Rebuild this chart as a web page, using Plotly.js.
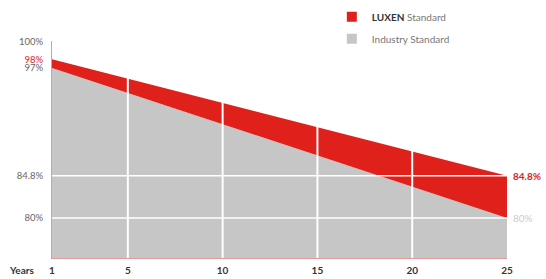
<!DOCTYPE html>
<html>
<head>
<meta charset="utf-8">
<script src="https://cdn.plot.ly/plotly-3.0.1.min.js"></script>
<style>html,body{margin:0;padding:0;background:#fff;}#chart{width:546px;height:279px;}</style>
</head>
<body>
<div id="chart"></div>
<script>
// ---- data ----
const years = [1, 25];
const luxen = [98, 84.8];
const industry = [97, 80];
const xTicks = [1, 5, 10, 15, 20, 25];
const xTickText = ['1', '5', '10', '15', '20', '25'];
const yTicks = [80, 84.8, 97, 98, 100];
const yTickText = ['80%', '84.8%', '97%', '98%', '100%'];
const seriesNames = ['<b><span style="color:#333">LUXEN</span></b> Standard', 'Industry Standard'];

const RED = '#e0201a';
const GRAY = '#c6c6c6';
const FONT = 'Lato, "Open Sans", sans-serif';

const yTickColored = yTicks.map((v, i) => {
  const c = (v === luxen[0]) ? RED : '#666';
  return '<span style="color:' + c + '">' + yTickText[i] + '</span>';
});

const traces = [
  {x: years, y: industry, type: 'scatter', mode: 'lines', fill: 'tozeroy',
   fillcolor: GRAY, line: {width: 0, color: GRAY}, showlegend: false, hoverinfo: 'skip'},
  {x: years, y: luxen, type: 'scatter', mode: 'lines', fill: 'tonexty',
   fillcolor: RED, line: {width: 0, color: RED}, showlegend: false, hoverinfo: 'skip'},
  {x: [null], y: [null], type: 'scatter', mode: 'markers', name: seriesNames[0], legendgroup: 'a',
   marker: {symbol: 'square', size: 10, color: RED}},
  {x: [null], y: [null], type: 'scatter', mode: 'markers', name: seriesNames[1], legendgroup: 'b',
   marker: {symbol: 'square', size: 10, color: GRAY}}
];

const shapes = [];
xTicks.slice(1, -1).forEach(v => shapes.push({type: 'line', xref: 'x', yref: 'paper',
  x0: v, x1: v, y0: 0, y1: 1, line: {color: '#ffffff', width: 2}, layer: 'above'}));
[industry[1], luxen[1]].forEach(v => shapes.push({type: 'line', xref: 'paper', yref: 'y',
  x0: 0, x1: 1, y0: v, y1: v, line: {color: '#ffffff', width: 1.5}, layer: 'above'}));

const annotations = [
  {x: years[1], y: luxen[1], xref: 'x', yref: 'y', xanchor: 'left', xshift: 4,
   text: '<b>' + luxen[1] + '%</b>', showarrow: false, font: {family: FONT, size: 10, color: RED}},
  {x: years[1], y: industry[1], xref: 'x', yref: 'y', xanchor: 'left', xshift: 4,
   text: industry[1] + '%', showarrow: false, font: {family: FONT, size: 10, color: '#cccccc'}},
  {x: 0, y: 0, xref: 'paper', yref: 'paper', xanchor: 'right', yanchor: 'top', xshift: -16, yshift: -4,
   text: '<b>Years</b>', showarrow: false, font: {family: FONT, size: 10, color: '#333'}}
];

const layout = {
  width: 546, height: 279,
  margin: {l: 52, r: 39, t: 41, b: 21, autoexpand: false},
  paper_bgcolor: '#fff', plot_bgcolor: '#fff',
  font: {family: FONT, size: 10, color: '#666'},
  showlegend: true,
  legend: {x: 0.615, y: 1.178, xanchor: 'left', yanchor: 'top', bgcolor: 'rgba(0,0,0,0)',
    traceorder: 'grouped', font: {family: FONT, size: 10, color: '#777'}, tracegroupgap: 3},
  xaxis: {range: [years[0], years[1]], tickvals: xTicks, ticktext: xTickText.map(t => '<b>' + t + '</b>'),
    showgrid: false, zeroline: false, showline: true, linecolor: 'rgba(215,110,110,0.7)', linewidth: 1,
    ticks: 'outside', ticklen: 3, tickcolor: 'rgba(0,0,0,0)', tickfont: {family: FONT, size: 10, color: '#333'},
    fixedrange: true},
  yaxis: {range: [75.47, 100.06], tickvals: yTicks, ticktext: yTickColored,
    showgrid: false, zeroline: false, showline: true, linecolor: 'rgba(215,110,110,0.7)', linewidth: 1,
    ticks: 'outside', ticklen: 6, tickcolor: 'rgba(0,0,0,0)', tickfont: {family: FONT, size: 9.5, color: '#666'},
    fixedrange: true},
  shapes: shapes,
  annotations: annotations
};

Plotly.newPlot('chart', traces, layout, {displayModeBar: false, staticPlot: true});
</script>
</body>
</html>
